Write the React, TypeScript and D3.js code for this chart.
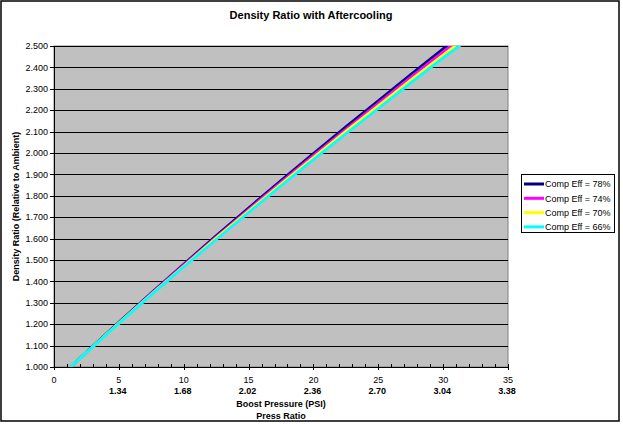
import React from "react";
import * as d3 from "d3";

const psi = [0, 2.5, 5, 7.5, 10, 12.5, 15, 17.5, 20, 22.5, 25, 27.5, 30, 32.5];
const eff78 = [0.928, 1.069, 1.209, 1.346, 1.48, 1.613, 1.743, 1.871, 1.997, 2.122, 2.244, 2.367, 2.487, 2.604];
const eff74 = [0.929, 1.068, 1.207, 1.343, 1.476, 1.607, 1.736, 1.863, 1.988, 2.111, 2.232, 2.354, 2.473, 2.588];
const eff70 = [0.929, 1.068, 1.205, 1.34, 1.471, 1.602, 1.729, 1.855, 1.978, 2.101, 2.22, 2.341, 2.458, 2.573];
const eff66 = [0.93, 1.067, 1.203, 1.337, 1.467, 1.596, 1.722, 1.847, 1.969, 2.09, 2.208, 2.328, 2.444, 2.557];

const seriesNames = ["Comp Eff = 78%", "Comp Eff = 74%", "Comp Eff = 70%", "Comp Eff = 66%"];
const seriesColors = ["#000080", "#ff00ff", "#ffff00", "#00ffff"];
const seriesValues = [eff78, eff74, eff70, eff66];

const xTicks = [0, 5, 10, 15, 20, 25, 30, 35];
const pressRatioLabels = ["", "1.34", "1.68", "2.02", "2.36", "2.70", "3.04", "3.38"];
const yTicks = [1.0, 1.1, 1.2, 1.3, 1.4, 1.5, 1.6, 1.7, 1.8, 1.9, 2.0, 2.1, 2.2, 2.3, 2.4, 2.5];

const W = 623;
const H = 424;
const L = 54, R = 508, T = 46, B = 367;
const FONT = "'Liberation Sans', Arial, sans-serif";

export default function App() {
  const x = d3.scaleLinear().domain([0, 35]).range([L, R]);
  const y = d3.scaleLinear().domain([1.0, 2.5]).range([B, T]);
  const line = d3.line<[number, number]>().x((d) => x(d[0])).y((d) => y(d[1]));
  const minor = d3.range(0, 36, 1);

  return (
    <svg width={W} height={H} style={{ position: "absolute", left: 0, top: 0, background: "#fff" }} fontFamily={FONT}>
      <defs>
        <clipPath id="plotclip">
          <rect x={L} y={T} width={R - L} height={B - T} />
        </clipPath>
      </defs>
      <rect x={1} y={1} width={618} height={420} fill="#fff" stroke="#000" strokeWidth={1.5} />
      <text x={311} y={19} textAnchor="middle" fontSize={11} fontWeight="bold">Density Ratio with Aftercooling</text>
      <rect x={L} y={T} width={R - L} height={B - T} fill="#c0c0c0" stroke="#808080" strokeWidth={1} />
      {yTicks.map((t) => (
        <g key={t}>
          <line x1={L} x2={R} y1={Math.round(y(t)) + 0.5} y2={Math.round(y(t)) + 0.5} stroke="#000" strokeWidth={1} />
          <line x1={L - 4} x2={L} y1={Math.round(y(t)) + 0.5} y2={Math.round(y(t)) + 0.5} stroke="#000" strokeWidth={1} />
          <text x={48} y={y(t) + 3.2} textAnchor="end" fontSize={9}>{t.toFixed(3)}</text>
        </g>
      ))}
      <line x1={L + 0.5} x2={L + 0.5} y1={T} y2={B} stroke="#000" strokeWidth={1} />
      {minor.map((m) => (
        <line key={m} x1={Math.round(x(m)) + 0.5} x2={Math.round(x(m)) + 0.5} y1={B} y2={B - 3} stroke="#000" strokeWidth={1} />
      ))}
      {xTicks.map((t, i) => (
        <g key={t}>
          <line x1={Math.round(x(t)) + 0.5} x2={Math.round(x(t)) + 0.5} y1={B} y2={B + 3} stroke="#000" strokeWidth={1} />
          <text x={x(t)} y={382.5} textAnchor="middle" fontSize={9}>{t}</text>
          <text x={x(t) - 1} y={394} textAnchor="middle" fontSize={9} fontWeight="bold">{pressRatioLabels[i]}</text>
        </g>
      ))}
      <g clipPath="url(#plotclip)">
        {seriesValues.map((vals, i) => (
          <path
            key={i}
            d={line(psi.map((p, j) => [p, vals[j]]) as [number, number][]) || ""}
            fill="none"
            stroke={seriesColors[i]}
            strokeWidth={2.8}
          />
        ))}
      </g>
      <line x1={L} x2={R} y1={B + 0.5} y2={B + 0.5} stroke="#000" strokeWidth={1} />
      <text x={(L + R) / 2} y={406.5} textAnchor="middle" fontSize={9} fontWeight="bold">Boost Pressure (PSI)</text>
      <text x={(L + R) / 2} y={419} textAnchor="middle" fontSize={9} fontWeight="bold">Press Ratio</text>
      <text transform={`translate(18.5, ${(T + B) / 2}) rotate(-90)`} textAnchor="middle" fontSize={9} fontWeight="bold">
        Density Ratio (Relative to Ambient)
      </text>
      <rect x={521.5} y={174.5} width={93} height={58} fill="#fff" stroke="#000" strokeWidth={1} />
      {seriesNames.map((n, i) => (
        <g key={n}>
          <line x1={524} x2={544} y1={184 + i * 14.3} y2={184 + i * 14.3} stroke={seriesColors[i]} strokeWidth={3} />
          <text x={545} y={187.2 + i * 14.3} fontSize={9}>{n}</text>
        </g>
      ))}
    </svg>
  );
}
